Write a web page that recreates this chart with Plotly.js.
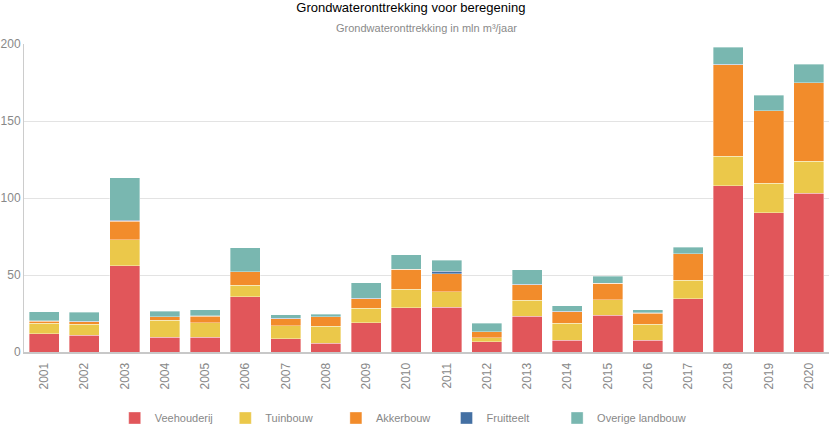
<!DOCTYPE html>
<html>
<head>
<meta charset="utf-8">
<script src="https://cdn.plot.ly/plotly-3.0.1.min.js"></script>
<style>html,body{margin:0;padding:0;background:#fff;}#chart{width:830px;height:425px;}</style>
</head>
<body>
<div id="chart"></div>
<script>
const years = ["2001","2002","2003","2004","2005","2006","2007","2008","2009","2010","2011","2012","2013","2014","2015","2016","2017","2018","2019","2020"];
const veehouderij = [11.7, 11.0, 56.0, 9.7, 9.5, 36.0, 8.5, 5.8, 19.0, 28.7, 29.2, 6.5, 23.3, 7.6, 24.0, 7.6, 34.6, 108.0, 90.3, 103.2];
const tuinbouw = [6.9, 7.1, 17.0, 10.8, 9.5, 7.3, 8.5, 11.0, 9.3, 11.9, 9.9, 2.6, 10.2, 11.2, 9.9, 10.5, 12.1, 19.0, 19.4, 20.8];
const akkerbouw = [1.5, 1.6, 12.0, 2.4, 4.3, 8.7, 4.7, 6.1, 6.3, 13.0, 11.7, 3.9, 10.3, 7.5, 10.8, 7.2, 17.0, 59.6, 46.9, 50.7];
const fruitteelt = [0.3, 0.3, 0.7, 0.1, 0.1, 0.2, 0.1, 0.1, 0.2, 0.2, 1.7, 0.1, 0.2, 0.1, 0.1, 0.1, 0.2, 0.2, 0.2, 0.2];
const overige = [5.6, 5.9, 27.5, 3.6, 4.2, 15.6, 2.5, 1.6, 10.3, 9.3, 7.1, 5.7, 9.3, 3.6, 4.4, 2.0, 4.1, 11.2, 9.9, 11.9];

const names = ["Veehouderij","Tuinbouw","Akkerbouw","Fruitteelt","Overige landbouw"];
const colors = ["#e1565a","#ebc84a","#f28c2b","#4470a3","#79b7b0"];
const series = [veehouderij, tuinbouw, akkerbouw, fruitteelt, overige];
const legendIds = ["legend","legend2","legend3","legend4","legend5"];

const data = series.map((vals, i) => ({
  type: "bar",
  name: names[i],
  x: years,
  y: vals,
  legend: legendIds[i],
  marker: {color: colors[i], line: {color: "rgba(255,255,255,0.6)", width: 0.6}},
  hoverinfo: "x+y+name"
}));

const layout = {
  width: 830, height: 425,
  margin: {l: 24, r: 1, t: 44, b: 73},
  barmode: "stack",
  bargap: 0.25,
  paper_bgcolor: "#fff",
  plot_bgcolor: "#fff",
  font: {family: "Liberation Sans, Arial, sans-serif", color: "#888"},
  title: {text: "Grondwateronttrekking voor beregening", font: {size: 13, color: "#000"}, x: 0.495, xanchor: "center", yref: "container", y: 0.993, yanchor: "top"},
  annotations: [{
    text: "Grondwateronttrekking in mln m³/jaar", xref: "paper", yref: "paper", x: 0.5, y: 1, xanchor: "center", yanchor: "bottom", yshift: 8,
    showarrow: false, font: {size: 11, color: "#8a8a8a"}
  }],
  xaxis: {
    type: "category", tickangle: -90, tickfont: {size: 12, color: "#888"}, automargin: false,
    showline: true, linecolor: "#c8c8c8", linewidth: 2, ticks: "", showgrid: false, ticklabelstandoff: 4
  },
  yaxis: {
    range: [0, 200], dtick: 50, tickfont: {size: 12, color: "#888"}, automargin: false,
    showline: true, linecolor: "#ccc", linewidth: 1, gridcolor: "#e3e3e3", zeroline: false, ticks: "",
    ticklabelstandoff: 0
  },
  showlegend: true
};

legendIds.forEach((id, i) => {
  const textStart = 151.7 + 110.6 * i;
  const left = textStart - 37;
  layout[id] = {
    orientation: "h", xref: "container", x: left / 830, xanchor: "left",
    yref: "container", y: 7 / 425, yanchor: "middle",
    font: {size: 11, color: "#888"}, bgcolor: "rgba(0,0,0,0)", borderwidth: 0
  };
});

Plotly.newPlot("chart", data, layout, {displayModeBar: false});
</script>
</body>
</html>
